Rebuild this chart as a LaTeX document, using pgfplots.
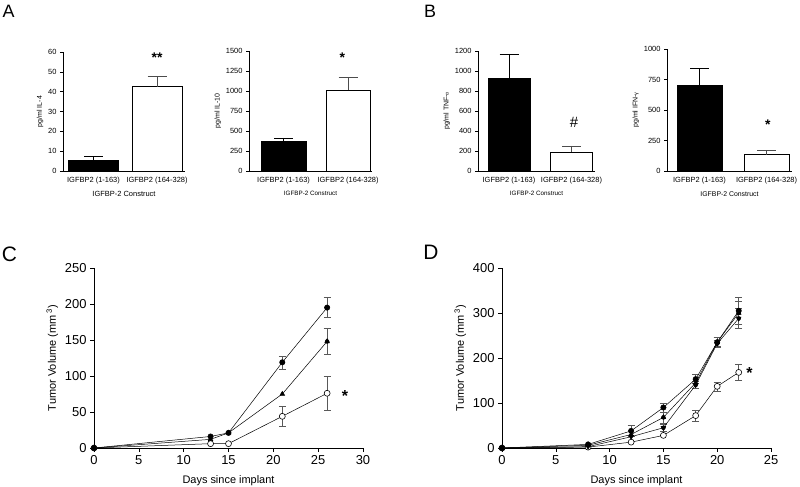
\documentclass[border=0pt]{standalone}
\usepackage{pgfplots}
\pgfplotsset{compat=1.18}
\usepackage{fontspec}
\setmainfont{Liberation Sans}
\pgfplotsset{
  barpanel/.style={
    scale only axis, axis lines*=left, ymin=0,
    xtick={0,1}, xticklabels={IGFBP2 (1-163),IGFBP2 (164-328)},
    tick align=outside, major tick length=3bp,
    x tick style={draw=none}, y tick style={black, line width=0.4pt},
    axis line style={line width=0.5pt},
    tick label style={font=\fontsize{7.5}{8}\selectfont},
    /pgf/number format/assume math mode=true,
    /pgf/number format/1000 sep={},
    anchor=south west, clip=false,
    ylabel style={font=\fontsize{7}{8}\selectfont, yshift=-2bp},
    xlabel style={font=\fontsize{6.3}{7}\selectfont},
  },
  blackbar/.style={ybar, bar shift=0pt, fill=black, draw=black, line width=0.5pt,
    error bars/.cd, y dir=plus, y explicit,
    error bar style={black, line width=0.5pt},
    error mark options={rotate=90, mark size=9.5bp, line width=0.5pt, black}},
  whitebar/.style={ybar, bar shift=0pt, fill=white, draw=black, line width=0.5pt,
    error bars/.cd, y dir=plus, y explicit,
    error bar style={black!70, line width=0.6pt},
    error mark options={rotate=90, mark size=9.5bp, line width=0.6pt, black!70}},
  linepanel/.style={
    scale only axis, axis lines*=left, ymin=0,
    tick align=outside, major tick length=4bp,
    tick style={black, line width=0.5pt},
    axis line style={line width=0.6pt},
    tick label style={font=\fontsize{13}{14}\selectfont},
    /pgf/number format/assume math mode=true,
    anchor=south west, clip=false,
    xlabel={Days since implant},
    ylabel={Tumor Volume (mm\,\textsuperscript{3})},
    label style={font=\fontsize{11}{12}\selectfont},
    xlabel style={yshift=-4bp},
  },
  ser/.style={black, line width=0.5pt, mark size=2.7bp},
  openser/.style={black, line width=0.5pt, mark=*, mark size=3bp, mark options={fill=white, draw=black, line width=0.6pt}},
  ebars/.style={only marks, mark=none, forget plot,
    error bars/.cd, y dir=both, y explicit,
    error bar style={draw=black!65, line width=0.6pt, solid},
    error mark options={rotate=90, mark size=3.5bp, draw=black!65, line width=0.6pt}},
}
\begin{document}
\begin{tikzpicture}
\useasboundingbox (0bp,0bp) rectangle (800bp,487bp);
% panel letters
\node[font=\fontsize{18}{20}\selectfont] at (8.5bp,475.5bp) {A};
\node[font=\fontsize{18}{20}\selectfont] at (430bp,475.5bp) {B};
\node[font=\fontsize{21}{22}\selectfont] at (9.5bp,233bp) {C};
\node[font=\fontsize{21}{22}\selectfont] at (431bp,234.5bp) {D};

% A1 IL-4
\begin{axis}[barpanel, at={(63bp,316bp)}, width=122bp, height=119bp,
  xmin=-0.48, xmax=1.44, ymax=60, ytick={0,10,...,60},
  ylabel={pg/ml IL-4}, xlabel={IGFBP-2 Construct},
  xlabel style={font=\fontsize{7.5}{8}\selectfont}, bar width=0.79]
\addplot[blackbar] coordinates {(0,5.5) +- (0,2.0)};
\addplot[whitebar] coordinates {(1,42.5) +- (0,5.0)};
\node[font=\bfseries\fontsize{14}{14}\selectfont] at (axis cs:1,57) {**};
\end{axis}

% A2 IL-10
\begin{axis}[barpanel, at={(249bp,316bp)}, width=123bp, height=120bp,
  xmin=-0.535, xmax=1.37, ymax=1500, ytick={0,250,...,1500},
  ylabel={pg/ml IL-10}, xlabel={IGFBP-2 Construct}, bar width=0.69]
\addplot[blackbar] coordinates {(0,370) +- (0,45)};
\addplot[whitebar] coordinates {(1,1010) +- (0,160)};
\node[font=\bfseries\fontsize{14}{14}\selectfont] at (axis cs:0.91,1420) {*};
\end{axis}

% B1 TNF
\begin{axis}[barpanel, at={(478bp,316bp)}, width=117bp, height=120bp,
  xmin=-0.496, xmax=1.376, ymax=1200, ytick={0,200,...,1200},
  ylabel={pg/ml TNF-{\fontsize{5}{5}\selectfont α}}, xlabel={IGFBP-2 Construct}, bar width=0.67]
\addplot[blackbar] coordinates {(0,930) +- (0,240)};
\addplot[whitebar] coordinates {(1,190) +- (0,60)};
\node[font=\fontsize{15}{15}\selectfont] at (axis cs:1.04,490) {\#};
\end{axis}

% B2 IFN
\begin{axis}[barpanel, at={(667bp,316bp)}, width=125bp, height=122bp,
  xmin=-0.485, xmax=1.38, ymax=1000, ytick={0,250,...,1000},
  ylabel={pg/ml IFN-{\fontsize{5.5}{5}\selectfont γ}}, xlabel={IGFBP-2 Construct},
  xlabel style={font=\fontsize{6.9}{8}\selectfont}, bar width=0.67]
\addplot[blackbar] coordinates {(0,700) +- (0,140)};
\addplot[whitebar] coordinates {(1,135) +- (0,35)};
\node[font=\bfseries\fontsize{14}{14}\selectfont] at (axis cs:1.02,380) {*};
\end{axis}

% C
\begin{axis}[linepanel, at={(94bp,39bp)}, width=269bp, height=180bp,
  xmin=0, xmax=30, ymax=250, xtick={0,5,...,30}, ytick={0,50,...,250}]
\addplot[ebars] coordinates {(21,119) +- (0,9) (26,195) +- (0,14)};
\addplot[ebars] coordinates {(26,148) +- (0,18)};
\addplot[ebars] coordinates {(21,44) +- (0,14) (26,76) +- (0,23)};
\addplot[openser] coordinates {(0,0) (13,6) (15,6) (21,44) (26,76)};
\addplot[ser, mark=triangle*, mark options={fill=black}] coordinates {(0,0) (13,12) (15,21) (21,75) (26,148)};
\addplot[ser, mark=*, mark options={fill=black}] coordinates {(0,0) (13,16) (15,21) (21,119) (26,195)};
\node[font=\bfseries\fontsize{16}{16}\selectfont] at (axis cs:28,72) {*};
\end{axis}

% D
\begin{axis}[linepanel, at={(502bp,39bp)}, width=269bp, height=180bp,
  xmin=0, xmax=25, ymax=400, xtick={0,5,...,25}, ytick={0,100,...,400}]
\addplot[ebars] coordinates {(12,38) +- (0,13) (15,90) +- (0,10) (18,153) +- (0,10) (20,235) +- (0,10) (22,305) +- (0,30)};
\addplot[ebars] coordinates {(15,68) +- (0,12) (20,235) +- (0,12) (22,300) +- (0,25)};
\addplot[ebars] coordinates {(15,45) +- (0,8) (18,140) +- (0,8) (20,232) +- (0,8) (22,288) +- (0,22)};
\addplot[ebars] coordinates {(18,72) +- (0,12) (20,137) +- (0,10) (22,168) +- (0,17)};
\addplot[openser] coordinates {(0,0) (8,2) (12,13) (15,28) (18,72) (20,137) (22,168)};
\addplot[ser, mark=triangle*, mark options={fill=black, rotate=180}] coordinates {(0,0) (8,3) (12,25) (15,45) (18,140) (20,232) (22,288)};
\addplot[ser, mark=triangle*, mark options={fill=black}] coordinates {(0,0) (8,6) (12,30) (15,68) (18,145) (20,235) (22,300)};
\addplot[ser, mark=*, mark options={fill=black}] coordinates {(0,0) (8,8) (12,38) (15,90) (18,153) (20,235) (22,305)};
\node[font=\bfseries\fontsize{16}{16}\selectfont] at (axis cs:23,166) {*};
\end{axis}
\end{tikzpicture}
\end{document}
